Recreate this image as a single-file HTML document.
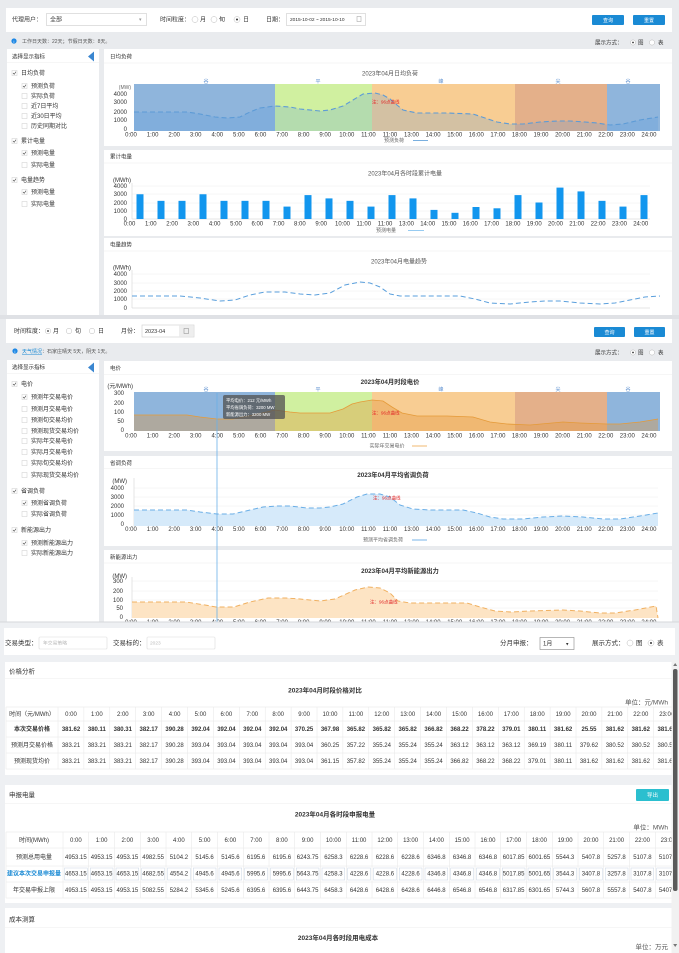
<!DOCTYPE html>
<html><head><meta charset="utf-8"><style>
html,body{margin:0;padding:0;background:#e9ebee;}
svg{display:block;}
text{font-family:"Liberation Sans","Noto Sans CJK SC",sans-serif;font-size:6px;fill:#333;}
.s{font-size:5px;fill:#666;}
.m{text-anchor:middle;}
.e{text-anchor:end;}
.b{font-weight:bold;}
.bl{fill:#1a8ad4;}
.w{fill:#fff;}
.r{fill:#e02828;font-size:4.5px;}
.g{fill:#999;}
.bd{fill:#5b8fd0;font-size:5px;}
.h{font-size:6.5px;}
.tt{font-size:4.3px;fill:#fff;}
</style></head><body>
<svg width="679" height="953" viewBox="0 0 679 953" xmlns="http://www.w3.org/2000/svg">
<rect x="0" y="0" width="679" height="953" fill="#e9ebee"/>

<!-- ================= SECTION 1 ================= -->
<rect x="6" y="8" width="666" height="24" fill="#fff"/>
<text x="12" y="21.5">代理用户：</text>
<rect x="46.5" y="13.5" width="100" height="12" fill="#fff" stroke="#ccc" stroke-width="0.6"/>
<text x="50" y="21.5">全部</text>
<text x="139" y="21" class="g" style="font-size:5px">▾</text>
<text x="160" y="21.5">时间粒度：</text>
<circle cx="195" cy="19.5" r="3" fill="#fff" stroke="#bbb" stroke-width="0.5"/><text x="200" y="21.5">月</text>
<circle cx="214" cy="19.5" r="3" fill="#fff" stroke="#bbb" stroke-width="0.5"/><text x="219" y="21.5">旬</text>
<circle cx="237" cy="19.5" r="3" fill="#fff" stroke="#bbb" stroke-width="0.5"/><circle cx="237" cy="19.5" r="1" fill="#333"/><text x="243" y="21.5">日</text>
<text x="266" y="21.5">日期：</text>
<rect x="286.5" y="13.5" width="79" height="12" fill="#fff" stroke="#ccc" stroke-width="0.6"/>
<text x="290" y="21.2" style="font-size:4.8px">2015-10-02 ~ 2015-10-10</text>
<rect x="357" y="16.5" width="4" height="5" fill="none" stroke="#999" stroke-width="0.5"/>
<rect x="592" y="15" width="32" height="10" fill="#1a8ad4" rx="1"/><text x="608" y="22" class="m w" style="font-size:5px">查询</text>
<rect x="633" y="15" width="32" height="10" fill="#1a8ad4" rx="1"/><text x="649" y="22" class="m w" style="font-size:5px">重置</text>

<circle cx="14" cy="41" r="2.6" fill="#1e88e5"/><text x="14" y="42.8" class="m w" style="font-size:4px">i</text>
<text x="22" y="42.8" style="font-size:5px;fill:#555">工作日天数：22天；节假日天数：8天。</text>
<text x="595" y="44.5" style="font-size:5.5px">展示方式：</text>
<circle cx="633" cy="42.5" r="2.6" fill="#fff" stroke="#bbb" stroke-width="0.5"/><circle cx="633" cy="42.5" r="0.9" fill="#333"/><text x="638" y="44.5" style="font-size:5.5px">图</text>
<circle cx="652" cy="42.5" r="2.6" fill="#fff" stroke="#bbb" stroke-width="0.5"/><text x="658" y="44.5" style="font-size:5.5px">表</text>

<!-- left panel 1 -->
<rect x="7" y="49" width="92" height="266" fill="#fff"/>
<text x="12" y="58.5" style="font-size:5.5px">选择显示指标</text>
<path d="M94,51.5 L94,61.5 L88,56.5 Z" fill="#3a86d0"/>
<line x1="7" y1="62.5" x2="99" y2="62.5" stroke="#eee" stroke-width="0.6"/>
<g fill="#fff" stroke="#ccc" stroke-width="0.5">
<rect x="12" y="70.5" width="5" height="5"/><rect x="22" y="83.5" width="5" height="5"/><rect x="22" y="93.5" width="5" height="5"/><rect x="22" y="103.5" width="5" height="5"/><rect x="22" y="113.5" width="5" height="5"/><rect x="22" y="123.5" width="5" height="5"/>
<rect x="12" y="138.5" width="5" height="5"/><rect x="22" y="150.5" width="5" height="5"/><rect x="22" y="162.5" width="5" height="5"/>
<rect x="12" y="177.5" width="5" height="5"/><rect x="22" y="189.5" width="5" height="5"/><rect x="22" y="201.5" width="5" height="5"/>
</g>
<g fill="none" stroke="#444" stroke-width="0.6">
<path d="M13,73 L14.2,74.3 L16,71.7"/><path d="M23,86 L24.2,87.3 L26,84.7"/><path d="M13,141 L14.2,142.3 L16,139.7"/><path d="M23,153 L24.2,154.3 L26,151.7"/><path d="M13,180 L14.2,181.3 L16,178.7"/><path d="M23,192 L24.2,193.3 L26,190.7"/>
</g>
<g style="font-size:5.5px">
<text x="21" y="75">日均负荷</text><text x="31" y="88">预测负荷</text><text x="31" y="98">实际负荷</text><text x="31" y="108">近7日平均</text><text x="31" y="118">近30日平均</text><text x="31" y="128">历史同期对比</text>
<text x="21" y="143">累计电量</text><text x="31" y="155">预测电量</text><text x="31" y="167">实际电量</text>
<text x="21" y="182">电量趋势</text><text x="31" y="194">预测电量</text><text x="31" y="206">实际电量</text>
</g>

<!-- chart panel 1 -->
<rect x="104" y="49" width="568" height="97" fill="#fff"/>
<text x="110" y="58.5" style="font-size:5.5px">日均负荷</text>
<line x1="104" y1="63" x2="672" y2="63" stroke="#eee" stroke-width="0.6"/>
<text x="390" y="75.5" class="m" style="font-size:6px;fill:#555">2023年04月日均负荷</text>
<rect x="134" y="84" width="141" height="47" fill="#8fb5dc"/>
<rect x="275" y="84" width="97" height="47" fill="#d0f0a0"/>
<rect x="372" y="84" width="143" height="47" fill="#f8cd93"/>
<rect x="515" y="84" width="92" height="47" fill="#e4b08a"/>
<rect x="607" y="84" width="53" height="47" fill="#8fb5dc"/>
<text x="206" y="83" class="m bd">谷</text><text x="318" y="83" class="m bd">平</text><text x="441" y="83" class="m bd">峰</text><text x="558" y="83" class="m bd">尖</text><text x="628" y="83" class="m bd">谷</text>
<path d="M134,112 L160,112 L187,112 L200,114 L215,117 L227,118 L240,117 L250,112 L260,108 L275,106 L290,107 L300,109 L320,111 L330,110 L343,106 L353,100 L363,94 L375,93 L383,95 L390,99 L397,105 L403,110 L417,113 L447,113 L473,114 L485,118 L497,122 L510,124 L523,124 L540,122 L557,121 L570,121 L585,122 L597,123 L610,125 L623,124 L640,120 L658,117 L658,131 L134,131 Z" fill="rgba(80,150,225,0.22)"/>
<path d="M134,112 L160,112 L187,112 L200,114 L215,117 L227,118 L240,117 L250,112 L260,108 L275,106 L290,107 L300,109 L320,111 L330,110 L343,106 L353,100 L363,94 L375,93 L383,95 L390,99 L397,105 L403,110 L417,113 L447,113 L473,114 L485,118 L497,122 L510,124 L523,124 L540,122 L557,121 L570,121 L585,122 L597,123 L610,125 L623,124 L640,120 L658,117" fill="none" stroke="#5d9bd6" stroke-width="1.1" stroke-dasharray="5 3"/>
<text x="372" y="103.5" class="r">注：96点曲线</text>
<g class="s e"><text x="131" y="89" class="s m" style="text-anchor:end">(MW)</text><text x="127" y="96">4000</text><text x="127" y="104">3000</text><text x="127" y="114">2000</text><text x="127" y="122">1000</text><text x="127" y="131">0</text></g>
<g class="s m">
<text x="131" y="136.5">0:00</text><text x="152.6" y="136.5">1:00</text><text x="174.2" y="136.5">2:00</text><text x="195.7" y="136.5">3:00</text><text x="217.3" y="136.5">4:00</text><text x="238.9" y="136.5">5:00</text><text x="260.5" y="136.5">6:00</text><text x="282.1" y="136.5">7:00</text><text x="303.6" y="136.5">8:00</text><text x="325.2" y="136.5">9:00</text><text x="346.8" y="136.5">10:00</text><text x="368.4" y="136.5">11:00</text><text x="390" y="136.5">11:00</text><text x="411.5" y="136.5">13:00</text><text x="433.1" y="136.5">14:00</text><text x="454.7" y="136.5">15:00</text><text x="476.3" y="136.5">16:00</text><text x="497.9" y="136.5">17:00</text><text x="519.4" y="136.5">18:00</text><text x="541" y="136.5">19:00</text><text x="562.6" y="136.5">20:00</text><text x="584.2" y="136.5">21:00</text><text x="605.8" y="136.5">22:00</text><text x="627.3" y="136.5">23:00</text><text x="648.9" y="136.5">24:00</text>
</g>
<text x="394" y="142" class="s m">预测负荷</text>
<line x1="413" y1="140.5" x2="428" y2="140.5" stroke="#6aa6dc" stroke-width="0.9"/>

<!-- chart panel 2 -->
<rect x="104" y="150" width="568" height="86" fill="#fff"/>
<text x="110" y="158.5" style="font-size:5.5px">累计电量</text>
<line x1="104" y1="163" x2="672" y2="163" stroke="#eee" stroke-width="0.6"/>
<text x="405" y="175.5" class="m" style="font-size:6px;fill:#555">2023年04月各时段累计电量</text>
<g stroke="#eee" stroke-width="0.5"><line x1="132" y1="186" x2="650" y2="186"/><line x1="132" y1="194" x2="650" y2="194"/><line x1="132" y1="203" x2="650" y2="203"/><line x1="132" y1="211" x2="650" y2="211"/></g>
<line x1="132" y1="183" x2="132" y2="219" stroke="#ccc" stroke-width="0.5"/>
<line x1="132" y1="219" x2="650" y2="219" stroke="#ccc" stroke-width="0.5"/>
<g fill="#1296ee">
<rect x="136.5" y="194.25" width="7" height="24.75"/><rect x="157.5" y="200.85" width="7" height="18.15"/><rect x="178.5" y="200.85" width="7" height="18.15"/><rect x="199.5" y="194.25" width="7" height="24.75"/><rect x="220.5" y="200.85" width="7" height="18.15"/><rect x="241.5" y="200.85" width="7" height="18.15"/><rect x="262.5" y="200.85" width="7" height="18.15"/><rect x="283.5" y="206.6" width="7" height="12.4"/><rect x="304.5" y="195.1" width="7" height="23.9"/><rect x="325.5" y="198.4" width="7" height="20.6"/><rect x="346.5" y="200.85" width="7" height="18.15"/><rect x="367.5" y="206.6" width="7" height="12.4"/><rect x="388.5" y="195.1" width="7" height="23.9"/><rect x="409.5" y="198.4" width="7" height="20.6"/><rect x="430.5" y="209.9" width="7" height="9.1"/><rect x="451.5" y="212.8" width="7" height="6.2"/><rect x="472.5" y="207" width="7" height="12"/><rect x="493.5" y="208.3" width="7" height="10.7"/><rect x="514.5" y="195.1" width="7" height="23.9"/><rect x="535.5" y="202.5" width="7" height="16.5"/><rect x="556.5" y="187.6" width="7" height="31.4"/><rect x="577.5" y="191.4" width="7" height="27.6"/><rect x="598.5" y="200.85" width="7" height="18.15"/><rect x="619.5" y="206.6" width="7" height="12.4"/><rect x="640.5" y="195.1" width="7" height="23.9"/>
</g>
<g class="s e"><text x="131" y="182">(MWh)</text><text x="127" y="188">4000</text><text x="127" y="196">3000</text><text x="127" y="205">2000</text><text x="127" y="213">1000</text><text x="127" y="221">0</text></g>
<g class="s m">
<text x="129.5" y="225.5">0:00</text><text x="150.8" y="225.5">1:00</text><text x="172.1" y="225.5">2:00</text><text x="193.4" y="225.5">3:00</text><text x="214.7" y="225.5">4:00</text><text x="236" y="225.5">5:00</text><text x="257.3" y="225.5">6:00</text><text x="278.6" y="225.5">7:00</text><text x="299.9" y="225.5">8:00</text><text x="321.2" y="225.5">9:00</text><text x="342.5" y="225.5">10:00</text><text x="363.8" y="225.5">11:00</text><text x="385.1" y="225.5">11:00</text><text x="406.4" y="225.5">13:00</text><text x="427.7" y="225.5">14:00</text><text x="449" y="225.5">15:00</text><text x="470.3" y="225.5">16:00</text><text x="491.6" y="225.5">17:00</text><text x="512.9" y="225.5">18:00</text><text x="534.2" y="225.5">19:00</text><text x="555.5" y="225.5">20:00</text><text x="576.8" y="225.5">21:00</text><text x="598.1" y="225.5">22:00</text><text x="619.4" y="225.5">23:00</text><text x="640.7" y="225.5">24:00</text>
</g>
<text x="386" y="232" class="s m">预测电量</text>
<line x1="408" y1="230.5" x2="424" y2="230.5" stroke="#8cc6f0" stroke-width="0.9"/>

<!-- chart panel 3 -->
<rect x="104" y="238" width="568" height="77" fill="#fff"/>
<text x="110" y="246.5" style="font-size:5.5px">电量趋势</text>
<line x1="104" y1="251" x2="672" y2="251" stroke="#eee" stroke-width="0.6"/>
<text x="399" y="263.5" class="m" style="font-size:6px;fill:#555">2023年04月电量趋势</text>
<g stroke="#eee" stroke-width="0.5"><line x1="132" y1="274" x2="650" y2="274"/><line x1="132" y1="283" x2="650" y2="283"/><line x1="132" y1="291" x2="650" y2="291"/><line x1="132" y1="299" x2="650" y2="299"/></g>
<line x1="132" y1="270" x2="132" y2="308" stroke="#ccc" stroke-width="0.5"/>
<line x1="132" y1="308" x2="650" y2="308" stroke="#ccc" stroke-width="0.5"/>
<path d="M132,296 L150,296 L180,296 L200,298 L220,301 L235,300 L250,295 L265,292 L285,292 L300,294 L315,295 L330,293 L345,285 L360,282 L370,283 L380,287 L390,294 L400,296 L420,296 L460,296 L475,299 L490,303 L510,304 L530,302 L545,301 L560,301 L580,303 L600,304 L615,303 L630,300 L645,297 L660,296" fill="none" stroke="#5a9fdc" stroke-width="1" stroke-dasharray="5 3"/>
<g class="s e"><text x="131" y="269.5">(MWh)</text><text x="127" y="276">4000</text><text x="127" y="285">3000</text><text x="127" y="293">2000</text><text x="127" y="301">1000</text><text x="127" y="310">0</text></g>

<rect x="0" y="315" width="679" height="4" fill="#dfe1e5"/>

<!-- ================= SECTION 2 ================= -->
<rect x="6" y="319" width="666" height="24" fill="#fff"/>
<text x="14" y="333">时间粒度：</text>
<circle cx="48" cy="331" r="2.8" fill="#fff" stroke="#bbb" stroke-width="0.5"/><circle cx="48" cy="331" r="0.9" fill="#333"/><text x="53" y="333">月</text>
<circle cx="69" cy="331" r="2.8" fill="#fff" stroke="#bbb" stroke-width="0.5"/><text x="75" y="333">旬</text>
<circle cx="92" cy="331" r="2.8" fill="#fff" stroke="#bbb" stroke-width="0.5"/><text x="98" y="333">日</text>
<text x="121" y="333">月份：</text>
<rect x="142" y="325" width="52" height="12" fill="#fff" stroke="#ccc" stroke-width="0.6"/>
<rect x="179" y="325.3" width="14.7" height="11.4" fill="#eee"/>
<rect x="184" y="328.5" width="4.5" height="5" fill="none" stroke="#888" stroke-width="0.5"/>
<text x="145" y="333" style="font-size:5.5px">2023-04</text>
<rect x="594" y="327" width="31" height="10" fill="#1a8ad4" rx="1"/><text x="609.5" y="334" class="m w" style="font-size:5px">查询</text>
<rect x="634" y="327" width="31" height="10" fill="#1a8ad4" rx="1"/><text x="649.5" y="334" class="m w" style="font-size:5px">重置</text>

<circle cx="15" cy="351" r="2.6" fill="#1e88e5"/><text x="15" y="352.8" class="m w" style="font-size:4px">i</text>
<text x="22" y="353" style="font-size:5px;fill:#1a8ad4;text-decoration:underline">天气情况</text>
<text x="42" y="353" style="font-size:5px;fill:#555">：石家庄晴天 5天，阴天 1天。</text>
<text x="595" y="354.5" style="font-size:5.5px">展示方式：</text>
<circle cx="633" cy="352.5" r="2.6" fill="#fff" stroke="#bbb" stroke-width="0.5"/><circle cx="633" cy="352.5" r="0.9" fill="#333"/><text x="638" y="354.5" style="font-size:5.5px">图</text>
<circle cx="652" cy="352.5" r="2.6" fill="#fff" stroke="#bbb" stroke-width="0.5"/><text x="658" y="354.5" style="font-size:5.5px">表</text>

<!-- left panel 2 -->
<rect x="7" y="360" width="92" height="262" fill="#fff"/>
<text x="12" y="369" style="font-size:5.5px">选择显示指标</text>
<path d="M94,362.5 L94,372.5 L88,367.5 Z" fill="#3a86d0"/>
<line x1="7" y1="373.5" x2="99" y2="373.5" stroke="#eee" stroke-width="0.6"/>
<g fill="#fff" stroke="#ccc" stroke-width="0.5">
<rect x="12" y="381.5" width="5" height="5"/><rect x="22" y="394.5" width="5" height="5"/><rect x="22" y="406.5" width="5" height="5"/><rect x="22" y="417.5" width="5" height="5"/><rect x="22" y="428.5" width="5" height="5"/><rect x="22" y="438.5" width="5" height="5"/><rect x="22" y="449.5" width="5" height="5"/><rect x="22" y="460.5" width="5" height="5"/><rect x="22" y="472.5" width="5" height="5"/>
<rect x="12" y="488.5" width="5" height="5"/><rect x="22" y="500.5" width="5" height="5"/><rect x="22" y="511.5" width="5" height="5"/>
<rect x="12" y="527.5" width="5" height="5"/><rect x="22" y="540.5" width="5" height="5"/><rect x="22" y="550.5" width="5" height="5"/>
</g>
<g fill="none" stroke="#444" stroke-width="0.6">
<path d="M13,384 L14.2,385.3 L16,382.7"/><path d="M23,397 L24.2,398.3 L26,395.7"/><path d="M13,491 L14.2,492.3 L16,489.7"/><path d="M23,503 L24.2,504.3 L26,501.7"/><path d="M13,530 L14.2,531.3 L16,528.7"/><path d="M23,543 L24.2,544.3 L26,541.7"/>
</g>
<g style="font-size:5.5px">
<text x="21" y="386">电价</text><text x="31" y="399">预测年交易电价</text><text x="31" y="411">预测月交易电价</text><text x="31" y="422">预测旬交易均价</text><text x="31" y="433">预测现货交易均价</text><text x="31" y="443">实际年交易电价</text><text x="31" y="454">实际月交易电价</text><text x="31" y="465">实际旬交易均价</text><text x="31" y="477">实际现货交易均价</text>
<text x="21" y="493">省调负荷</text><text x="31" y="505">预测省调负荷</text><text x="31" y="516">实际省调负荷</text>
<text x="21" y="532">新能源出力</text><text x="31" y="545">预测新能源出力</text><text x="31" y="555">实际新能源出力</text>
</g>

<!-- 电价 chart -->
<rect x="104" y="361" width="568" height="90" fill="#fff"/>
<text x="110" y="370" style="font-size:5.5px">电价</text>
<line x1="104" y1="374.5" x2="672" y2="374.5" stroke="#eee" stroke-width="0.6"/>
<text x="390" y="384" class="m b" style="font-size:6.3px">2023年04月时段电价</text>
<rect x="134" y="392" width="141" height="39" fill="#8fb5dc"/>
<rect x="275" y="392" width="97" height="39" fill="#d0f0a0"/>
<rect x="372" y="392" width="143" height="39" fill="#f8cd93"/>
<rect x="515" y="392" width="92" height="39" fill="#e4b08a"/>
<rect x="607" y="392" width="53" height="39" fill="#8fb5dc"/>
<text x="206" y="391" class="m bd">谷</text><text x="318" y="391" class="m bd">平</text><text x="441" y="391" class="m bd">峰</text><text x="558" y="391" class="m bd">尖</text><text x="628" y="391" class="m bd">谷</text>
<path d="M134,415 L187,415 L200,417 L217,419 L233,419 L253,415 L275,410 L290,412 L300,413 L320,413 L330,413 L343,409 L352,404 L360,402 L372,400 L383,401 L392,407 L402,413 L417,416 L447,416 L473,417 L490,422 L507,424 L530,425 L563,422 L580,423 L607,424 L620,424 L640,422 L658,419 L658,431 L134,431 Z" fill="rgba(225,150,60,0.38)"/>
<path d="M134,415 L187,415 L200,417 L217,419 L233,419 L253,415 L275,410 L290,412 L300,413 L320,413 L330,413 L343,409 L352,404 L360,402 L372,400 L383,401 L392,407 L402,413 L417,416 L447,416 L473,417 L490,422 L507,424 L530,425 L563,422 L580,423 L607,424 L620,424 L640,422 L658,419" fill="none" stroke="#e59a38" stroke-width="0.8"/>
<text x="372" y="414.5" class="r">注：96点曲线</text>
<g class="s e"><text x="133" y="388">(元/MWh)</text><text x="124" y="395">300</text><text x="124" y="405">200</text><text x="124" y="414">100</text><text x="124" y="423">50</text><text x="124" y="432">0</text></g>
<g class="s m">
<text x="131" y="437.5">0:00</text><text x="152.6" y="437.5">1:00</text><text x="174.2" y="437.5">2:00</text><text x="195.7" y="437.5">3:00</text><text x="217.3" y="437.5">4:00</text><text x="238.9" y="437.5">5:00</text><text x="260.5" y="437.5">6:00</text><text x="282.1" y="437.5">7:00</text><text x="303.6" y="437.5">8:00</text><text x="325.2" y="437.5">9:00</text><text x="346.8" y="437.5">10:00</text><text x="368.4" y="437.5">11:00</text><text x="390" y="437.5">11:00</text><text x="411.5" y="437.5">13:00</text><text x="433.1" y="437.5">14:00</text><text x="454.7" y="437.5">15:00</text><text x="476.3" y="437.5">16:00</text><text x="497.9" y="437.5">17:00</text><text x="519.4" y="437.5">18:00</text><text x="541" y="437.5">19:00</text><text x="562.6" y="437.5">20:00</text><text x="584.2" y="437.5">21:00</text><text x="605.8" y="437.5">22:00</text><text x="627.3" y="437.5">23:00</text><text x="648.9" y="437.5">24:00</text>
</g>
<text x="387" y="447.5" class="s m">实际年交易电价</text>
<line x1="412" y1="446" x2="427" y2="446" stroke="#f0b060" stroke-width="0.9"/>

<!-- 省调负荷 chart -->
<rect x="104" y="456" width="568" height="90" fill="#fff"/>
<text x="110" y="465" style="font-size:5.5px">省调负荷</text>
<line x1="104" y1="468.5" x2="672" y2="468.5" stroke="#eee" stroke-width="0.6"/>
<text x="393" y="477" class="m b" style="font-size:6.3px">2023年04月平均省调负荷</text>
<g stroke="#eee" stroke-width="0.5"><line x1="134" y1="488" x2="658" y2="488"/><line x1="134" y1="497" x2="658" y2="497"/><line x1="134" y1="506" x2="658" y2="506"/><line x1="134" y1="515" x2="658" y2="515"/></g>
<line x1="134" y1="478" x2="134" y2="526" stroke="#ccc" stroke-width="0.5"/>
<path d="M134,510 L187,510 L200,512 L217,514 L233,514 L250,510 L263,507 L277,506 L290,506 L307,508 L320,508 L330,507 L343,504 L357,497 L367,494 L380,494 L390,497 L400,505 L413,509 L430,510 L463,510 L477,513 L490,517 L503,519 L523,519 L543,517 L563,516 L583,517 L603,519 L620,519 L640,516 L658,513 L658,526 L134,526 Z" fill="#d6eafa"/>
<path d="M134,510 L187,510 L200,512 L217,514 L233,514 L250,510 L263,507 L277,506 L290,506 L307,508 L320,508 L330,507 L343,504 L357,497 L367,494 L380,494 L390,497 L400,505 L413,509 L430,510 L463,510 L477,513 L490,517 L503,519 L523,519 L543,517 L563,516 L583,517 L603,519 L620,519 L640,516 L658,513" fill="none" stroke="#6aaee6" stroke-width="1" stroke-dasharray="5 3"/>
<text x="373" y="499.5" class="r">注：96点曲线</text>
<g class="s e"><text x="127" y="483">(MW)</text><text x="124" y="490">4000</text><text x="124" y="499">3000</text><text x="124" y="508">2000</text><text x="124" y="517">1000</text><text x="124" y="526">0</text></g>
<g class="s m">
<text x="131" y="531">0:00</text><text x="152.6" y="531">1:00</text><text x="174.2" y="531">2:00</text><text x="195.7" y="531">3:00</text><text x="217.3" y="531">4:00</text><text x="238.9" y="531">5:00</text><text x="260.5" y="531">6:00</text><text x="282.1" y="531">7:00</text><text x="303.6" y="531">8:00</text><text x="325.2" y="531">9:00</text><text x="346.8" y="531">10:00</text><text x="368.4" y="531">11:00</text><text x="390" y="531">11:00</text><text x="411.5" y="531">13:00</text><text x="433.1" y="531">14:00</text><text x="454.7" y="531">15:00</text><text x="476.3" y="531">16:00</text><text x="497.9" y="531">17:00</text><text x="519.4" y="531">18:00</text><text x="541" y="531">19:00</text><text x="562.6" y="531">20:00</text><text x="584.2" y="531">21:00</text><text x="605.8" y="531">22:00</text><text x="627.3" y="531">23:00</text><text x="648.9" y="531">24:00</text>
</g>
<text x="383" y="541.5" class="s m">预测平均省调负荷</text>
<line x1="412" y1="540" x2="427" y2="540" stroke="#6aaee6" stroke-width="0.9"/>

<!-- 新能源出力 chart -->
<rect x="104" y="550" width="568" height="72" fill="#fff"/>
<text x="110" y="559" style="font-size:5.5px">新能源出力</text>
<line x1="104" y1="563" x2="672" y2="563" stroke="#eee" stroke-width="0.6"/>
<text x="400" y="573" class="m b" style="font-size:6.3px">2023年04月平均新能源出力</text>
<g stroke="#eee" stroke-width="0.5"><line x1="132" y1="581" x2="658" y2="581"/><line x1="132" y1="591" x2="658" y2="591"/><line x1="132" y1="600" x2="658" y2="600"/><line x1="132" y1="608" x2="658" y2="608"/></g>
<line x1="132" y1="577" x2="132" y2="618" stroke="#ccc" stroke-width="0.5"/>
<path d="M132,602 L186,602 L205,605 L216,607 L234,607 L250,602 L268,598 L286,598 L300,599 L320,601 L335,599 L355,590 L368,587 L380,588 L390,593 L398,601 L410,603 L467,603 L480,607 L495,611 L511,612 L530,611 L563,610 L580,611 L600,613 L615,613 L635,610 L656,606 L658,618 L132,618 Z" fill="#fde4c4"/>
<path d="M132,602 L186,602 L205,605 L216,607 L234,607 L250,602 L268,598 L286,598 L300,599 L320,601 L335,599 L355,590 L368,587 L380,588 L390,593 L398,601 L410,603 L467,603 L480,607 L495,611 L511,612 L530,611 L563,610 L580,611 L600,613 L615,613 L635,610 L656,606 L658,618" fill="none" stroke="#f0b060" stroke-width="1" stroke-dasharray="5 3"/>
<text x="370" y="603.5" class="r">注：96点曲线</text>
<g class="s e"><text x="127" y="578">(MW)</text><text x="123" y="583">300</text><text x="123" y="593">200</text><text x="123" y="602">100</text><text x="123" y="610">50</text><text x="123" y="619">0</text></g>
<g class="s m">
<text x="131" y="624">0:00</text><text x="152.6" y="624">1:00</text><text x="174.2" y="624">2:00</text><text x="195.7" y="624">3:00</text><text x="217.3" y="624">4:00</text><text x="238.9" y="624">5:00</text><text x="260.5" y="624">6:00</text><text x="282.1" y="624">7:00</text><text x="303.6" y="624">8:00</text><text x="325.2" y="624">9:00</text><text x="346.8" y="624">10:00</text><text x="368.4" y="624">11:00</text><text x="390" y="624">11:00</text><text x="411.5" y="624">13:00</text><text x="433.1" y="624">14:00</text><text x="454.7" y="624">15:00</text><text x="476.3" y="624">16:00</text><text x="497.9" y="624">17:00</text><text x="519.4" y="624">18:00</text><text x="541" y="624">19:00</text><text x="562.6" y="624">20:00</text><text x="584.2" y="624">21:00</text><text x="605.8" y="624">22:00</text><text x="627.3" y="624">23:00</text><text x="648.9" y="624">24:00</text>
</g>

<!-- tooltip + crosshair -->
<line x1="217" y1="393" x2="217" y2="622" stroke="#6ab0e8" stroke-width="0.8"/>
<rect x="223" y="395" width="62" height="24" rx="2" fill="rgba(85,85,85,0.78)"/>
<text x="226" y="402" class="tt">平均电价：212 元/MWh</text>
<text x="226" y="409" class="tt">平均省调负荷：3200 MW</text>
<text x="226" y="416" class="tt">新能源出力：3200 MW</text>

<!-- ================= SECTION 3 ================= -->
<rect x="0" y="621.5" width="679" height="331.5" fill="#eef0f3"/>
<line x1="0" y1="622" x2="679" y2="622" stroke="#d5d7db" stroke-width="1"/>
<rect x="4" y="628" width="671" height="27" fill="#fff"/>
<text x="5" y="645" class="h">交易类型：</text>
<rect x="39" y="637" width="68" height="12" fill="#fff" stroke="#ddd" stroke-width="0.6" rx="1"/>
<text x="43" y="644.5" style="font-size:4.8px;fill:#bbb">年交易策略</text>
<text x="113" y="645" class="h">交易标的：</text>
<rect x="147" y="637" width="68" height="12" fill="#fff" stroke="#ddd" stroke-width="0.6" rx="1"/>
<text x="150" y="644.5" style="font-size:4.8px;fill:#bbb">2023</text>
<text x="500" y="645" class="h">分月申报：</text>
<rect x="540" y="637.5" width="34" height="12" fill="#fff" stroke="#888" stroke-width="0.6"/>
<text x="543" y="645.5" style="font-size:6px">1月</text>
<text x="566" y="645.5" style="font-size:5px">▾</text>
<text x="592" y="645" class="h">展示方式：</text>
<circle cx="630" cy="643" r="3" fill="#fff" stroke="#bbb" stroke-width="0.5"/><text x="636" y="645" class="h">图</text>
<circle cx="651" cy="643" r="3" fill="#fff" stroke="#bbb" stroke-width="0.5"/><circle cx="651" cy="643" r="1" fill="#333"/><text x="657" y="645" class="h">表</text>

<!-- 价格分析 panel -->
<rect x="5" y="662" width="667" height="113" fill="#fff"/>
<text x="9" y="673.5" class="h">价格分析</text>
<line x1="5" y1="678.5" x2="672" y2="678.5" stroke="#eee" stroke-width="0.6"/>
<text x="325" y="692.5" class="m b h">2023年04月时段价格对比</text>
<text x="668" y="704.5" class="e" style="font-size:6.5px;fill:#555">单位：元/MWh</text>
<g stroke="#e6e6e6" stroke-width="0.5" fill="none">
<rect x="6" y="707" width="675" height="62"/>
<line x1="6" y1="721" x2="681" y2="721"/><line x1="6" y1="737" x2="681" y2="737"/><line x1="6" y1="753" x2="681" y2="753"/>
<line x1="58" y1="707" x2="58" y2="769"/><line x1="83.9" y1="707" x2="83.9" y2="769"/><line x1="109.8" y1="707" x2="109.8" y2="769"/><line x1="135.7" y1="707" x2="135.7" y2="769"/><line x1="161.6" y1="707" x2="161.6" y2="769"/><line x1="187.5" y1="707" x2="187.5" y2="769"/><line x1="213.4" y1="707" x2="213.4" y2="769"/><line x1="239.3" y1="707" x2="239.3" y2="769"/><line x1="265.2" y1="707" x2="265.2" y2="769"/><line x1="291.1" y1="707" x2="291.1" y2="769"/><line x1="317" y1="707" x2="317" y2="769"/><line x1="342.9" y1="707" x2="342.9" y2="769"/><line x1="368.8" y1="707" x2="368.8" y2="769"/><line x1="394.7" y1="707" x2="394.7" y2="769"/><line x1="420.6" y1="707" x2="420.6" y2="769"/><line x1="446.5" y1="707" x2="446.5" y2="769"/><line x1="472.4" y1="707" x2="472.4" y2="769"/><line x1="498.3" y1="707" x2="498.3" y2="769"/><line x1="524.2" y1="707" x2="524.2" y2="769"/><line x1="550.1" y1="707" x2="550.1" y2="769"/><line x1="576" y1="707" x2="576" y2="769"/><line x1="601.9" y1="707" x2="601.9" y2="769"/><line x1="627.8" y1="707" x2="627.8" y2="769"/><line x1="653.7" y1="707" x2="653.7" y2="769"/>
</g>
<g class="s m" style="fill:#555">
<text x="32" y="716">时间（元/MWh）</text>
<text x="71" y="716">0:00</text><text x="96.9" y="716">1:00</text><text x="122.8" y="716">2:00</text><text x="148.7" y="716">3:00</text><text x="174.6" y="716">4:00</text><text x="200.5" y="716">5:00</text><text x="226.4" y="716">6:00</text><text x="252.3" y="716">7:00</text><text x="278.2" y="716">8:00</text><text x="304.1" y="716">9:00</text><text x="330" y="716">10:00</text><text x="355.9" y="716">11:00</text><text x="381.8" y="716">12:00</text><text x="407.7" y="716">13:00</text><text x="433.6" y="716">14:00</text><text x="459.5" y="716">15:00</text><text x="485.4" y="716">16:00</text><text x="511.3" y="716">17:00</text><text x="537.2" y="716">18:00</text><text x="563.1" y="716">19:00</text><text x="589" y="716">20:00</text><text x="614.9" y="716">21:00</text><text x="640.8" y="716">22:00</text><text x="666.7" y="716">23:00</text>
</g>
<g class="s m b" style="fill:#1a8ad4">
<text x="32" y="731">本次交易价格</text>
<text x="71" y="731">381.62</text><text x="96.9" y="731">380.11</text><text x="122.8" y="731">380.31</text><text x="148.7" y="731">382.17</text><text x="174.6" y="731">390.28</text><text x="200.5" y="731">392.04</text><text x="226.4" y="731">392.04</text><text x="252.3" y="731">392.04</text><text x="278.2" y="731">392.04</text><text x="304.1" y="731">370.25</text><text x="330" y="731">367.98</text><text x="355.9" y="731">365.82</text><text x="381.8" y="731">365.82</text><text x="407.7" y="731">365.82</text><text x="433.6" y="731">366.82</text><text x="459.5" y="731">368.22</text><text x="485.4" y="731">378.22</text><text x="511.3" y="731">379.01</text><text x="537.2" y="731">380.11</text><text x="563.1" y="731">381.62</text><text x="589" y="731">25.55</text><text x="614.9" y="731">381.62</text><text x="640.8" y="731">381.62</text><text x="666.7" y="731">381.62</text>
</g>
<g class="s m" style="fill:#555">
<text x="32" y="747">预测月交易价格</text>
<text x="71" y="747">383.21</text><text x="96.9" y="747">383.21</text><text x="122.8" y="747">383.21</text><text x="148.7" y="747">382.17</text><text x="174.6" y="747">390.28</text><text x="200.5" y="747">393.04</text><text x="226.4" y="747">393.04</text><text x="252.3" y="747">393.04</text><text x="278.2" y="747">393.04</text><text x="304.1" y="747">393.04</text><text x="330" y="747">360.25</text><text x="355.9" y="747">357.22</text><text x="381.8" y="747">355.24</text><text x="407.7" y="747">355.24</text><text x="433.6" y="747">355.24</text><text x="459.5" y="747">363.12</text><text x="485.4" y="747">363.12</text><text x="511.3" y="747">363.12</text><text x="537.2" y="747">369.19</text><text x="563.1" y="747">380.11</text><text x="589" y="747">379.62</text><text x="614.9" y="747">380.52</text><text x="640.8" y="747">380.52</text><text x="666.7" y="747">380.52</text>
<text x="32" y="763">预测现货均价</text>
<text x="71" y="763">383.21</text><text x="96.9" y="763">383.21</text><text x="122.8" y="763">383.21</text><text x="148.7" y="763">382.17</text><text x="174.6" y="763">390.28</text><text x="200.5" y="763">393.04</text><text x="226.4" y="763">393.04</text><text x="252.3" y="763">393.04</text><text x="278.2" y="763">393.04</text><text x="304.1" y="763">393.04</text><text x="330" y="763">361.15</text><text x="355.9" y="763">357.82</text><text x="381.8" y="763">355.24</text><text x="407.7" y="763">355.24</text><text x="433.6" y="763">355.24</text><text x="459.5" y="763">366.82</text><text x="485.4" y="763">368.22</text><text x="511.3" y="763">368.22</text><text x="537.2" y="763">379.01</text><text x="563.1" y="763">380.11</text><text x="589" y="763">381.62</text><text x="614.9" y="763">381.62</text><text x="640.8" y="763">381.62</text><text x="666.7" y="763">381.62</text>
</g>

<!-- 申报电量 panel -->
<rect x="5" y="785" width="667" height="118" fill="#fff"/>
<text x="9" y="797" class="h">申报电量</text>
<rect x="636" y="789" width="33" height="12" fill="#2bbfcf" rx="1"/><text x="652.5" y="797" class="m w" style="font-size:5.5px">导出</text>
<line x1="5" y1="803.5" x2="672" y2="803.5" stroke="#eee" stroke-width="0.6"/>
<text x="335" y="816.5" class="m b h">2023年04月各时段申报电量</text>
<text x="668" y="829.5" class="e" style="font-size:6.5px;fill:#555">单位：MWh</text>
<g stroke="#e6e6e6" stroke-width="0.5" fill="none">
<rect x="6" y="832" width="675" height="66"/>
<line x1="6" y1="848" x2="681" y2="848"/><line x1="6" y1="866" x2="681" y2="866"/><line x1="6" y1="882" x2="681" y2="882"/>
<line x1="63" y1="832" x2="63" y2="898"/><line x1="88.75" y1="832" x2="88.75" y2="898"/><line x1="114.5" y1="832" x2="114.5" y2="898"/><line x1="140.25" y1="832" x2="140.25" y2="898"/><line x1="166" y1="832" x2="166" y2="898"/><line x1="191.75" y1="832" x2="191.75" y2="898"/><line x1="217.5" y1="832" x2="217.5" y2="898"/><line x1="243.25" y1="832" x2="243.25" y2="898"/><line x1="269" y1="832" x2="269" y2="898"/><line x1="294.75" y1="832" x2="294.75" y2="898"/><line x1="320.5" y1="832" x2="320.5" y2="898"/><line x1="346.25" y1="832" x2="346.25" y2="898"/><line x1="372" y1="832" x2="372" y2="898"/><line x1="397.75" y1="832" x2="397.75" y2="898"/><line x1="423.5" y1="832" x2="423.5" y2="898"/><line x1="449.25" y1="832" x2="449.25" y2="898"/><line x1="475" y1="832" x2="475" y2="898"/><line x1="500.75" y1="832" x2="500.75" y2="898"/><line x1="526.5" y1="832" x2="526.5" y2="898"/><line x1="552.25" y1="832" x2="552.25" y2="898"/><line x1="578" y1="832" x2="578" y2="898"/><line x1="603.75" y1="832" x2="603.75" y2="898"/><line x1="629.5" y1="832" x2="629.5" y2="898"/><line x1="655.25" y1="832" x2="655.25" y2="898"/>
</g>
<g fill="#fff" stroke="#c9d6e3" stroke-width="0.5">
<rect x="64.5" y="868" width="22.75" height="12"/><rect x="90.25" y="868" width="22.75" height="12"/><rect x="116" y="868" width="22.75" height="12"/><rect x="141.75" y="868" width="22.75" height="12"/><rect x="167.5" y="868" width="22.75" height="12"/><rect x="193.25" y="868" width="22.75" height="12"/><rect x="219" y="868" width="22.75" height="12"/><rect x="244.75" y="868" width="22.75" height="12"/><rect x="270.5" y="868" width="22.75" height="12"/><rect x="296.25" y="868" width="22.75" height="12"/><rect x="322" y="868" width="22.75" height="12"/><rect x="347.75" y="868" width="22.75" height="12"/><rect x="373.5" y="868" width="22.75" height="12"/><rect x="399.25" y="868" width="22.75" height="12"/><rect x="425" y="868" width="22.75" height="12"/><rect x="450.75" y="868" width="22.75" height="12"/><rect x="476.5" y="868" width="22.75" height="12"/><rect x="502.25" y="868" width="22.75" height="12"/><rect x="528" y="868" width="22.75" height="12"/><rect x="553.75" y="868" width="22.75" height="12"/><rect x="579.5" y="868" width="22.75" height="12"/><rect x="605.25" y="868" width="22.75" height="12"/><rect x="631" y="868" width="22.75" height="12"/><rect x="656.75" y="868" width="22.75" height="12"/>
</g>
<g class="s m" style="fill:#555">
<text x="34" y="842">时间(MWh)</text>
<text x="75.9" y="842">0:00</text><text x="101.6" y="842">1:00</text><text x="127.4" y="842">2:00</text><text x="153.1" y="842">3:00</text><text x="178.9" y="842">4:00</text><text x="204.6" y="842">5:00</text><text x="230.4" y="842">6:00</text><text x="256.1" y="842">7:00</text><text x="281.9" y="842">8:00</text><text x="307.6" y="842">9:00</text><text x="333.4" y="842">10:00</text><text x="359.1" y="842">11:00</text><text x="384.9" y="842">12:00</text><text x="410.6" y="842">13:00</text><text x="436.4" y="842">14:00</text><text x="462.1" y="842">15:00</text><text x="487.9" y="842">16:00</text><text x="513.6" y="842">17:00</text><text x="539.4" y="842">18:00</text><text x="565.1" y="842">19:00</text><text x="590.9" y="842">20:00</text><text x="616.6" y="842">21:00</text><text x="642.4" y="842">22:00</text><text x="668.1" y="842">23:00</text>
<text x="34" y="859">预测总用电量</text>
<text x="75.9" y="859">4953.15</text><text x="101.6" y="859">4953.15</text><text x="127.4" y="859">4953.15</text><text x="153.1" y="859">4982.55</text><text x="178.9" y="859">5104.2</text><text x="204.6" y="859">5145.6</text><text x="230.4" y="859">5145.6</text><text x="256.1" y="859">6195.6</text><text x="281.9" y="859">6195.6</text><text x="307.6" y="859">6243.75</text><text x="333.4" y="859">6258.3</text><text x="359.1" y="859">6228.6</text><text x="384.9" y="859">6228.6</text><text x="410.6" y="859">6228.6</text><text x="436.4" y="859">6346.8</text><text x="462.1" y="859">6346.8</text><text x="487.9" y="859">6346.8</text><text x="513.6" y="859">6017.85</text><text x="539.4" y="859">6001.65</text><text x="565.1" y="859">5544.3</text><text x="590.9" y="859">5407.8</text><text x="616.6" y="859">5257.8</text><text x="642.4" y="859">5107.8</text><text x="668.1" y="859">5107.8</text>
<text x="34" y="892">年交易申报上限</text>
<text x="75.9" y="892">4953.15</text><text x="101.6" y="892">4953.15</text><text x="127.4" y="892">4953.15</text><text x="153.1" y="892">5082.55</text><text x="178.9" y="892">5284.2</text><text x="204.6" y="892">5345.6</text><text x="230.4" y="892">5245.6</text><text x="256.1" y="892">6395.6</text><text x="281.9" y="892">6395.6</text><text x="307.6" y="892">6443.75</text><text x="333.4" y="892">6458.3</text><text x="359.1" y="892">6428.6</text><text x="384.9" y="892">6428.6</text><text x="410.6" y="892">6428.6</text><text x="436.4" y="892">6446.8</text><text x="462.1" y="892">6546.8</text><text x="487.9" y="892">6546.8</text><text x="513.6" y="892">6317.85</text><text x="539.4" y="892">6301.65</text><text x="565.1" y="892">5744.3</text><text x="590.9" y="892">5607.8</text><text x="616.6" y="892">5557.8</text><text x="642.4" y="892">5407.8</text><text x="668.1" y="892">5407.8</text>
</g>
<g class="s m" style="fill:#1a8ad4">
<text x="34" y="875.5" class="b" style="fill:#1a8ad4">建议本次交易申报量</text>
<text x="75.9" y="875.5">4653.15</text><text x="101.6" y="875.5">4653.15</text><text x="127.4" y="875.5">4653.15</text><text x="153.1" y="875.5">4682.55</text><text x="178.9" y="875.5">4554.2</text><text x="204.6" y="875.5">4945.6</text><text x="230.4" y="875.5">4945.6</text><text x="256.1" y="875.5">5995.6</text><text x="281.9" y="875.5">5995.6</text><text x="307.6" y="875.5">5643.75</text><text x="333.4" y="875.5">4258.3</text><text x="359.1" y="875.5">4228.6</text><text x="384.9" y="875.5">4228.6</text><text x="410.6" y="875.5">4228.6</text><text x="436.4" y="875.5">4346.8</text><text x="462.1" y="875.5">4346.8</text><text x="487.9" y="875.5">4346.8</text><text x="513.6" y="875.5">5017.85</text><text x="539.4" y="875.5">5001.65</text><text x="565.1" y="875.5">3544.3</text><text x="590.9" y="875.5">3407.8</text><text x="616.6" y="875.5">3257.8</text><text x="642.4" y="875.5">3107.8</text><text x="668.1" y="875.5">3107.8</text>
</g>

<!-- 成本测算 panel -->
<rect x="5" y="908" width="667" height="45" fill="#fff"/>
<text x="9" y="921.5" class="h">成本测算</text>
<line x1="5" y1="927.5" x2="672" y2="927.5" stroke="#eee" stroke-width="0.6"/>
<text x="338" y="940" class="m b h">2023年04月各时段用电成本</text>
<text x="668" y="949" class="e" style="font-size:6.5px;fill:#555">单位：万元</text>

<!-- scrollbar -->
<rect x="671.5" y="660" width="7.5" height="293" fill="#f1f1f1"/>
<rect x="673" y="669" width="4.5" height="222" rx="2" fill="#5a5a5a"/>
<path d="M673.2,666 L677.2,666 L675.2,663 Z" fill="#777"/>
<path d="M673.2,944 L677.2,944 L675.2,947 Z" fill="#777"/>
</svg>
</body></html>
